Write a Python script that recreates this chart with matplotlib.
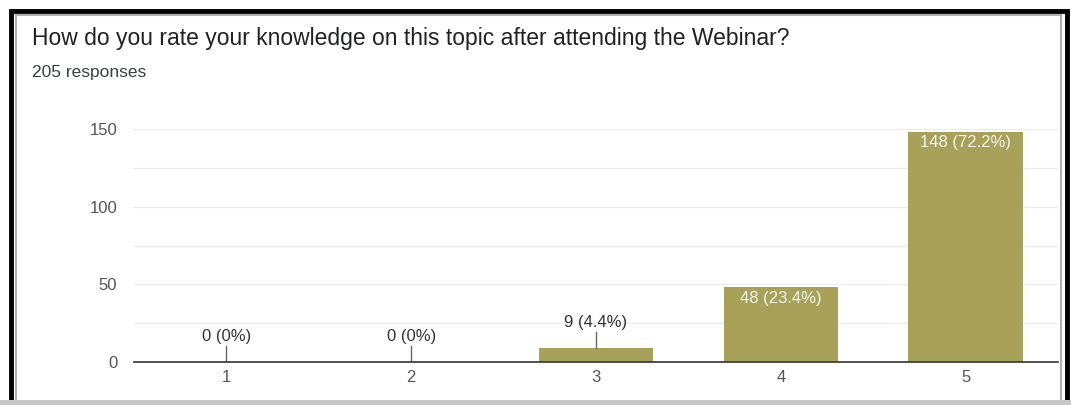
import matplotlib.pyplot as plt
from matplotlib.patches import Rectangle

categories = ['1', '2', '3', '4', '5']
counts = [0, 0, 9, 48, 148]
labels = ['0 (0%)', '0 (0%)', '9 (4.4%)', '48 (23.4%)', '148 (72.2%)']
title = 'How do you rate your knowledge on this topic after attending the Webinar?'
subtitle = '205 responses'

plt.rcParams['font.family'] = ['Liberation Sans', 'DejaVu Sans']

fig = plt.figure(figsize=(10.71, 4.05), dpi=100)
W, H = 1071, 405

# outer frame (black border + grey shadow)
fig.patches.append(Rectangle((10.5 / W, -0.02), 1056 / W, 1 - 10.5 / H + 0.02,
                             transform=fig.transFigure,
                             facecolor='none', edgecolor='black', linewidth=3.5))
fig.patches.append(Rectangle((15.5 / W, 0), 1045 / W, 1 - 15 / H, transform=fig.transFigure,
                             facecolor='none', edgecolor='#b0b0b0', linewidth=1.5))
fig.patches.append(Rectangle((0, 0), 1, 5 / H, transform=fig.transFigure,
                             facecolor='#c8c8c8', edgecolor='none'))

fig.text(32 / W, 1 - 38 / H, title, fontsize=16.5, color='#202124', va='center')
fig.text(32 / W, 1 - 73 / H, subtitle, fontsize=12.5, color='#3c4043', va='center')

ax = fig.add_axes([134 / W, 1 - 362 / H, 924 / W, 233 / H])
x = range(len(categories))
ax.bar(x, counts, width=0.62, color='#a8a15a', zorder=3)
ax.set_xlim(-0.5, 4.5)
ax.set_ylim(0, 150)
ax.set_yticks([0, 50, 100, 150])
ax.set_yticks([25, 75, 125], minor=True)
ax.set_xticks(list(x))
ax.set_xticklabels(categories)
ax.grid(axis='y', which='both', color='#ececec', linewidth=1, zorder=0)
ax.set_axisbelow(True)
for s in ['top', 'right', 'left']:
    ax.spines[s].set_visible(False)
ax.spines['bottom'].set_color('#333333')
ax.spines['bottom'].set_linewidth(1.2)
ax.spines['bottom'].set_zorder(4)
ax.tick_params(axis='both', which='both', length=0, labelsize=12, labelcolor='#555555')
ax.tick_params(axis='y', pad=12)
ax.tick_params(axis='x', pad=6)

for i, (c, lab) in enumerate(zip(counts, labels)):
    if c > 30:
        ax.text(i, c - 2, lab, ha='center', va='top', fontsize=12, color='#f4f4ee', zorder=5)
    else:
        ax.plot([i, i], [c, c + 10], color='#666666', linewidth=1, zorder=4)
        ax.text(i, c + 11.5, lab, ha='center', va='bottom', fontsize=12, color='#333333', zorder=5)

fig.savefig('out.png', dpi=100)
